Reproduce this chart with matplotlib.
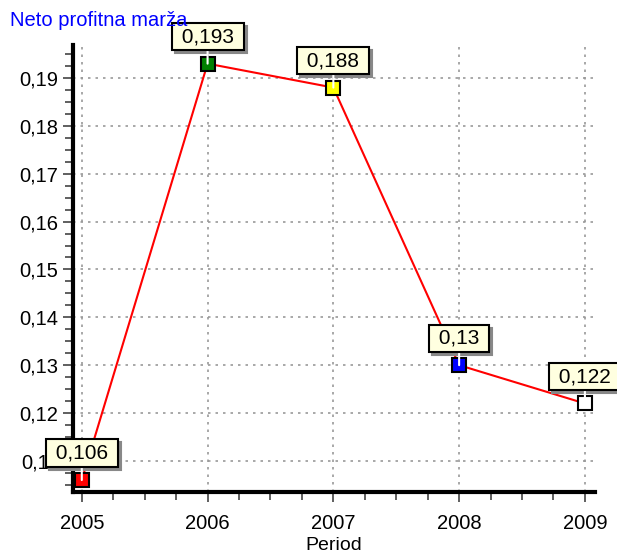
import matplotlib.pyplot as plt
from matplotlib.ticker import MultipleLocator, FuncFormatter

plt.rcParams['font.family'] = ['Liberation Sans', 'DejaVu Sans']

years = [2005, 2006, 2007, 2008, 2009]
values = [0.106, 0.193, 0.188, 0.13, 0.122]
labels = ["0,106", "0,193", "0,188", "0,13", "0,122"]
colors = ["#ff0000", "#008000", "#ffff00", "#0000ff", "#ffffff"]

fig = plt.figure(figsize=(6.17, 5.54), dpi=100)
ax = fig.add_axes([0.1183, 0.1119, 0.846, 0.8069])

ax.plot(years, values, color="red", lw=1.5, zorder=3)
for x, y, c in zip(years, values, colors):
    ax.plot(x, y, marker="s", ms=10.5, mfc=c, mec="black", mew=1.5,
            ls="none", zorder=4)

for x, y, t in zip(years, values, labels):
    t = " " + t + " "
    # shadow
    ax.annotate(t, (x, y), xytext=(2.2, 17.2), textcoords="offset points",
                ha="center", va="center", fontsize=15, color="#888888",
                bbox=dict(boxstyle="square,pad=0.2", fc="#888888", ec="#888888", lw=1.5),
                annotation_clip=False, zorder=5)
    ax.annotate(t, (x, y), xytext=(0, 19.4), textcoords="offset points",
                ha="center", va="center", fontsize=15, color="black",
                bbox=dict(boxstyle="square,pad=0.2", fc="#ffffe0", ec="black", lw=1.5),
                arrowprops=dict(arrowstyle="-", color="white", lw=1.5,
                                shrinkA=0, shrinkB=0),
                annotation_clip=False, zorder=6)

ax.set_xlim(2004.93, 2009.08)
ax.set_ylim(0.1035, 0.1969)
ax.xaxis.set_major_locator(MultipleLocator(1))
ax.xaxis.set_minor_locator(MultipleLocator(0.25))
ax.yaxis.set_major_locator(MultipleLocator(0.01))
ax.yaxis.set_minor_locator(MultipleLocator(0.0025))
ax.yaxis.set_major_formatter(FuncFormatter(lambda v, p: ("%.2f" % v).replace(".", ",")))
ax.xaxis.set_major_formatter(FuncFormatter(lambda v, p: "%d" % round(v)))

ax.tick_params(which="major", length=7, width=1.2, color="#444444", labelsize=14.5)
ax.tick_params(which="minor", length=6, width=1.2, color="#444444")
ax.tick_params(axis="x", pad=9)

ax.grid(True, which="major", ls=(0, (1.5, 3)), color="#999999", lw=1.2)
ax.set_axisbelow(True)

for s in ["top", "right"]:
    ax.spines[s].set_visible(False)
for s in ["left", "bottom"]:
    ax.spines[s].set_linewidth(3)

ax.set_xlabel("Period", fontsize=14, labelpad=3)
fig.text(0.016, 0.963, "Neto profitna marža", color="#0000ff", fontsize=14.5,
         ha="left", va="center")

fig.savefig("out.png", dpi=100)
